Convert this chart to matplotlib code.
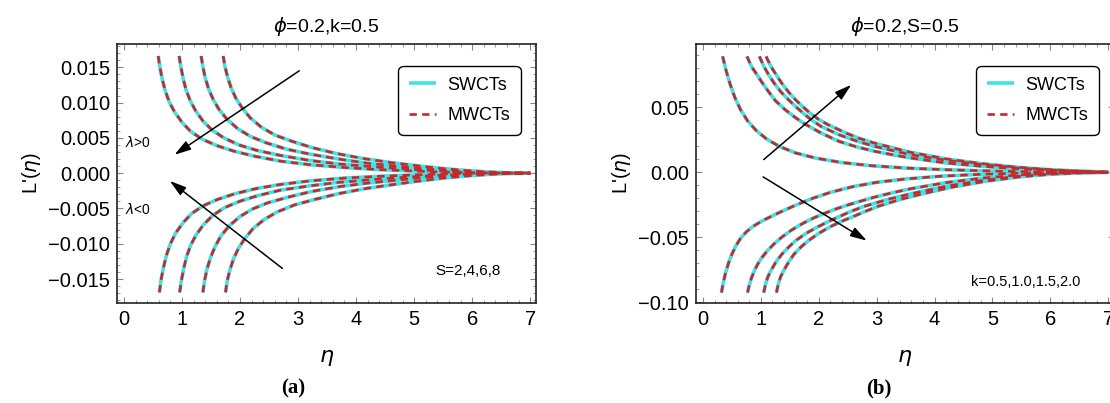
import matplotlib
matplotlib.use("Agg")
import matplotlib.pyplot as plt
from matplotlib.ticker import MultipleLocator

plt.rcParams['font.family'] = ['Liberation Sans', 'DejaVu Sans']
plt.rcParams['mathtext.fontset'] = 'dejavusans'

# --- datos panel (a): phi=0.2, k=0.5, S=2,4,6,8 ---
a_up1_eta = [0.59, 0.62, 0.66, 0.71, 0.78, 0.87, 1.0, 1.15, 1.35, 1.6, 1.9, 2.25, 2.7, 3.2, 3.8, 4.4, 5.0, 5.5, 6.0, 6.5, 7.0]
a_up1_val = [0.0166, 0.0150, 0.0133, 0.0117, 0.0101, 0.0087, 0.0072, 0.0059, 0.0048, 0.0039, 0.0031, 0.0024, 0.0017, 0.0012, 0.0008, 0.0005, 0.0003, 0.00016, 0.00006, 0.00001, 0.0]
a_up2_eta = [0.95, 0.98, 1.02, 1.07, 1.14, 1.23, 1.36, 1.52, 1.72, 1.98, 2.3, 2.7, 3.2, 3.7, 4.3, 4.9, 5.4, 5.9, 6.4, 7.0]
a_up2_val = [0.0166, 0.0151, 0.0134, 0.0118, 0.0103, 0.0089, 0.0074, 0.0061, 0.0050, 0.0040, 0.0032, 0.0025, 0.0018, 0.0013, 0.0009, 0.00055, 0.00032, 0.00014, 0.00003, 0.0]
a_up3_eta = [1.33, 1.36, 1.40, 1.46, 1.54, 1.64, 1.78, 1.96, 2.18, 2.45, 2.8, 3.2, 3.7, 4.2, 4.7, 5.2, 5.7, 6.1, 6.5, 7.0]
a_up3_val = [0.0166, 0.0151, 0.0135, 0.0119, 0.0104, 0.0090, 0.0076, 0.0063, 0.0052, 0.0043, 0.0034, 0.0027, 0.0020, 0.0014, 0.0010, 0.0006, 0.00033, 0.00014, 0.00004, 0.0]
a_up4_eta = [1.71, 1.74, 1.79, 1.85, 1.93, 2.04, 2.18, 2.37, 2.6, 2.9, 3.25, 3.65, 4.1, 4.6, 5.1, 5.5, 5.9, 6.3, 6.6, 7.0]
a_up4_val = [0.0166, 0.0151, 0.0135, 0.0120, 0.0106, 0.0092, 0.0078, 0.0065, 0.0054, 0.0045, 0.0036, 0.0028, 0.0021, 0.0015, 0.0010, 0.00065, 0.00037, 0.00016, 0.00005, 0.0]

a_lo1_eta = [0.61, 0.64, 0.68, 0.73, 0.80, 0.89, 1.02, 1.17, 1.37, 1.62, 1.92, 2.27, 2.7, 3.2, 3.8, 4.4, 5.0, 5.6, 6.2, 7.0]
a_lo1_val = [-0.0169, -0.0151, -0.0134, -0.0117, -0.0100, -0.0085, -0.0070, -0.0057, -0.0046, -0.0037, -0.0029, -0.0022, -0.0016, -0.0011, -0.0007, -0.00045, -0.00025, -0.0001, -0.00002, 0.0]
a_lo2_eta = [0.96, 0.99, 1.03, 1.08, 1.15, 1.24, 1.37, 1.53, 1.73, 1.99, 2.3, 2.7, 3.2, 3.7, 4.3, 4.9, 5.4, 5.9, 6.4, 7.0]
a_lo2_val = [-0.0169, -0.0152, -0.0135, -0.0118, -0.0102, -0.0088, -0.0073, -0.0060, -0.0049, -0.0040, -0.0032, -0.0024, -0.0018, -0.0013, -0.0009, -0.00055, -0.00032, -0.00014, -0.00003, 0.0]
a_lo3_eta = [1.36, 1.39, 1.43, 1.49, 1.57, 1.67, 1.81, 1.99, 2.21, 2.48, 2.83, 3.23, 3.72, 4.2, 4.7, 5.2, 5.7, 6.1, 6.5, 7.0]
a_lo3_val = [-0.0169, -0.0152, -0.0136, -0.0120, -0.0104, -0.0089, -0.0075, -0.0062, -0.0051, -0.0042, -0.0034, -0.0026, -0.0019, -0.0014, -0.0010, -0.0006, -0.00034, -0.00014, -0.00004, 0.0]
a_lo4_eta = [1.75, 1.78, 1.83, 1.89, 1.97, 2.08, 2.22, 2.41, 2.64, 2.94, 3.3, 3.7, 4.15, 4.65, 5.1, 5.5, 5.9, 6.3, 6.6, 7.0]
a_lo4_val = [-0.0169, -0.0152, -0.0136, -0.0121, -0.0107, -0.0093, -0.0079, -0.0066, -0.0055, -0.0045, -0.0037, -0.0029, -0.0022, -0.0016, -0.0011, -0.0007, -0.0004, -0.00017, -0.00005, 0.0]

# --- datos panel (b): phi=0.2, S=0.5, k=0.5,1.0,1.5,2.0 ---
b_up1_eta = [0.34, 0.40, 0.47, 0.55, 0.65, 0.77, 0.92, 1.1, 1.32, 1.6, 1.95, 2.4, 2.9, 3.5, 4.2, 4.9, 5.5, 6.1, 6.6, 7.0]
b_up1_val = [0.0890, 0.0780, 0.0675, 0.0575, 0.0480, 0.0395, 0.0320, 0.0255, 0.0198, 0.0148, 0.0108, 0.0074, 0.0050, 0.0032, 0.0019, 0.0010, 0.0005, 0.0002, 0.00005, 0.0]
b_up2_eta = [0.76, 0.84, 0.94, 1.02, 1.11, 1.25, 1.42, 1.58, 1.73, 2.04, 2.35, 2.65, 2.96, 3.3, 3.58, 4.2, 4.81, 5.43, 6.05, 6.6, 7.0]
b_up2_val = [0.0890, 0.0810, 0.0745, 0.0690, 0.0633, 0.0550, 0.0480, 0.0425, 0.0378, 0.0301, 0.0237, 0.0195, 0.0161, 0.0132, 0.0110, 0.0071, 0.0046, 0.0026, 0.0013, 0.0003, 0.0]
b_up3_eta = [0.975, 1.05, 1.13, 1.23, 1.35, 1.48, 1.6, 1.73, 1.88, 2.04, 2.35, 2.65, 2.96, 3.58, 4.2, 4.81, 5.43, 6.05, 6.67, 7.0]
b_up3_val = [0.0890, 0.0815, 0.0752, 0.0684, 0.0615, 0.0556, 0.0505, 0.0454, 0.0400, 0.0352, 0.0288, 0.0240, 0.0199, 0.0135, 0.0092, 0.0059, 0.0033, 0.0015, 0.0005, 0.0]
b_up4_eta = [1.09, 1.17, 1.26, 1.36, 1.48, 1.6, 1.72, 1.85, 2.0, 2.16, 2.47, 2.7, 2.96, 3.58, 4.2, 4.81, 5.43, 6.05, 6.67, 7.0]
b_up4_val = [0.0890, 0.0815, 0.0752, 0.0684, 0.0615, 0.0556, 0.0505, 0.0454, 0.0405, 0.0365, 0.0301, 0.0260, 0.0224, 0.0153, 0.0102, 0.0066, 0.0038, 0.0018, 0.0005, 0.0]

b_lo1_eta = [0.32, 0.35, 0.39, 0.44, 0.50, 0.57, 0.65, 0.75, 0.87, 1.02, 1.2, 1.4, 1.62, 1.9, 2.2, 2.6, 3.0, 3.5, 4.1, 4.8, 5.5, 6.2, 7.0]
b_lo1_val = [-0.0925, -0.0850, -0.0775, -0.0700, -0.0630, -0.0565, -0.0508, -0.0458, -0.0415, -0.0375, -0.0335, -0.0293, -0.0250, -0.0200, -0.0155, -0.0110, -0.0078, -0.0052, -0.0031, -0.0016, -0.0007, -0.0002, 0.0]
b_lo2_eta = [0.77, 0.80, 0.84, 0.89, 0.95, 1.02, 1.11, 1.23, 1.36, 1.53, 1.73, 1.92, 2.1, 2.3, 2.53, 2.96, 3.3, 3.58, 4.2, 4.81, 5.43, 6.05, 6.6, 7.0]
b_lo2_val = [-0.0925, -0.0868, -0.0810, -0.0755, -0.0703, -0.0655, -0.0605, -0.0550, -0.0500, -0.0445, -0.0392, -0.0350, -0.0316, -0.0282, -0.0248, -0.0192, -0.0155, -0.0128, -0.0080, -0.0046, -0.0022, -0.0008, -0.0002, 0.0]
b_lo3_eta = [1.05, 1.08, 1.12, 1.17, 1.26, 1.36, 1.48, 1.60, 1.78, 1.98, 2.16, 2.35, 2.55, 2.78, 3.2, 3.6, 4.2, 4.8, 5.4, 6.0, 6.6, 7.0]
b_lo3_val = [-0.0925, -0.0862, -0.0805, -0.0760, -0.0690, -0.0632, -0.0576, -0.0526, -0.0470, -0.0421, -0.0380, -0.0342, -0.0302, -0.0263, -0.0208, -0.0165, -0.0108, -0.0065, -0.0033, -0.0013, -0.0003, 0.0]
b_lo4_eta = [1.27, 1.30, 1.34, 1.39, 1.48, 1.57, 1.69, 1.82, 2.0, 2.19, 2.38, 2.59, 2.8, 3.02, 3.4, 3.8, 4.3, 4.9, 5.5, 6.05, 6.6, 7.0]
b_lo4_val = [-0.0925, -0.0862, -0.0805, -0.0760, -0.0690, -0.0632, -0.0576, -0.0526, -0.0470, -0.0421, -0.0380, -0.0342, -0.0302, -0.0263, -0.0210, -0.0165, -0.0115, -0.0068, -0.0034, -0.0014, -0.0003, 0.0]

x_ticks = [0, 1, 2, 3, 4, 5, 6, 7]
a_yticks = [-0.015, -0.010, -0.005, 0.0, 0.005, 0.010, 0.015]
a_ylabels = ["\u22120.015", "\u22120.010", "\u22120.005", "0.000", "0.005", "0.010", "0.015"]
b_yticks = [-0.10, -0.05, 0.0, 0.05]
b_ylabels = ["\u22120.10", "\u22120.05", "0.00", "0.05"]

curvas_a = [(a_up1_eta, a_up1_val), (a_up2_eta, a_up2_val), (a_up3_eta, a_up3_val), (a_up4_eta, a_up4_val),
            (a_lo1_eta, a_lo1_val), (a_lo2_eta, a_lo2_val), (a_lo3_eta, a_lo3_val), (a_lo4_eta, a_lo4_val)]
curvas_b = [(b_up1_eta, b_up1_val), (b_up2_eta, b_up2_val), (b_up3_eta, b_up3_val), (b_up4_eta, b_up4_val),
            (b_lo1_eta, b_lo1_val), (b_lo2_eta, b_lo2_val), (b_lo3_eta, b_lo3_val), (b_lo4_eta, b_lo4_val)]

CIAN = "#3fe3e6"
ROJO = "#c8282c"

fig = plt.figure(figsize=(11.10, 4.03), dpi=100)
ax1 = fig.add_axes([117/1110, 1-303/403, 419/1110, 259/403])
ax2 = fig.add_axes([696/1110, 1-303/403, 418/1110, 259/403])


def dibujar(ax, curvas):
    for i, (eta, val) in enumerate(curvas):
        ax.plot(eta, val, color=CIAN, lw=2.6, solid_capstyle='butt',
                label="SWCTs" if i == 0 else None, zorder=2)
    for i, (eta, val) in enumerate(curvas):
        ax.plot(eta, val, color=ROJO, lw=1.9, dashes=(2.8, 2.0),
                label="MWCTs" if i == 0 else None, zorder=3)


def estilo(ax, yticks, ylabels, ylim, yminor, titulo):
    ax.set_xlim(-0.12, 7.1)
    ax.set_ylim(*ylim)
    ax.set_xticks(x_ticks)
    ax.set_xticklabels([str(t) for t in x_ticks])
    ax.set_yticks(yticks)
    ax.set_yticklabels(ylabels)
    ax.xaxis.set_minor_locator(MultipleLocator(0.2))
    ax.yaxis.set_minor_locator(MultipleLocator(yminor))
    ax.tick_params(which='both', direction='in', top=True, right=True, color='#888888')
    ax.tick_params(which='major', length=4, width=0.8, labelsize=14.5, pad=5)
    ax.tick_params(which='minor', length=2, width=0.6)
    for s in ax.spines.values():
        s.set_linewidth(1.2)
        s.set_color('#222222')
    ax.set_title(titulo, fontsize=14, pad=9)
    ax.set_xlabel(r"$\eta$", fontsize=16, labelpad=13)
    ax.set_ylabel(r"L'($\eta$)", fontsize=14.5, labelpad=4)
    leg = ax.legend(loc='upper right', bbox_to_anchor=(0.985, 0.95), fontsize=13,
                    handlelength=1.5, handletextpad=0.6, labelspacing=0.75,
                    borderpad=0.6, fancybox=True, framealpha=1)
    leg.get_frame().set_edgecolor('black')
    leg.get_frame().set_linewidth(1.0)
    leg.get_frame().set_boxstyle('round,pad=0.0,rounding_size=0.3')


dibujar(ax1, curvas_a)
estilo(ax1, a_yticks, a_ylabels, (-0.0184, 0.0183), 0.001, r"$\phi$=0.2,k=0.5")
dibujar(ax2, curvas_b)
estilo(ax2, b_yticks, b_ylabels, (-0.1005, 0.0985), 0.01, r"$\phi$=0.2,S=0.5")

flecha = dict(arrowstyle='-|>,head_length=1.0,head_width=0.3', color='black', lw=1.1, shrinkA=0, shrinkB=0)
ax1.annotate("", xy=(0.87, 0.0026), xytext=(3.02, 0.0145), arrowprops=flecha)
ax1.annotate("", xy=(0.79, -0.0011), xytext=(2.73, -0.0135), arrowprops=flecha)
ax1.text(0.25, 0.0043, r"$\lambda$>0", fontsize=10, ha='center', va='center')
ax1.text(0.25, -0.0052, r"$\lambda$<0", fontsize=10, ha='center', va='center')
ax1.text(5.93, -0.0139, "S=2,4,6,8", fontsize=11, ha='center', va='center')

ax2.annotate("", xy=(2.56, 0.0671), xytext=(1.05, 0.0097), arrowprops=flecha)
ax2.annotate("", xy=(2.83, -0.0526), xytext=(1.04, -0.0036), arrowprops=flecha)
ax2.text(5.57, -0.0842, "k=0.5,1.0,1.5,2.0", fontsize=10.5, ha='center', va='center')

fig.text(293/1110, 1-388/403, "(a)", fontsize=15, weight='bold', family='Liberation Serif', ha='center', va='center')
fig.text(879/1110, 1-388/403, "(b)", fontsize=15, weight='bold', family='Liberation Serif', ha='center', va='center')

fig.savefig("out.png", dpi=100)
